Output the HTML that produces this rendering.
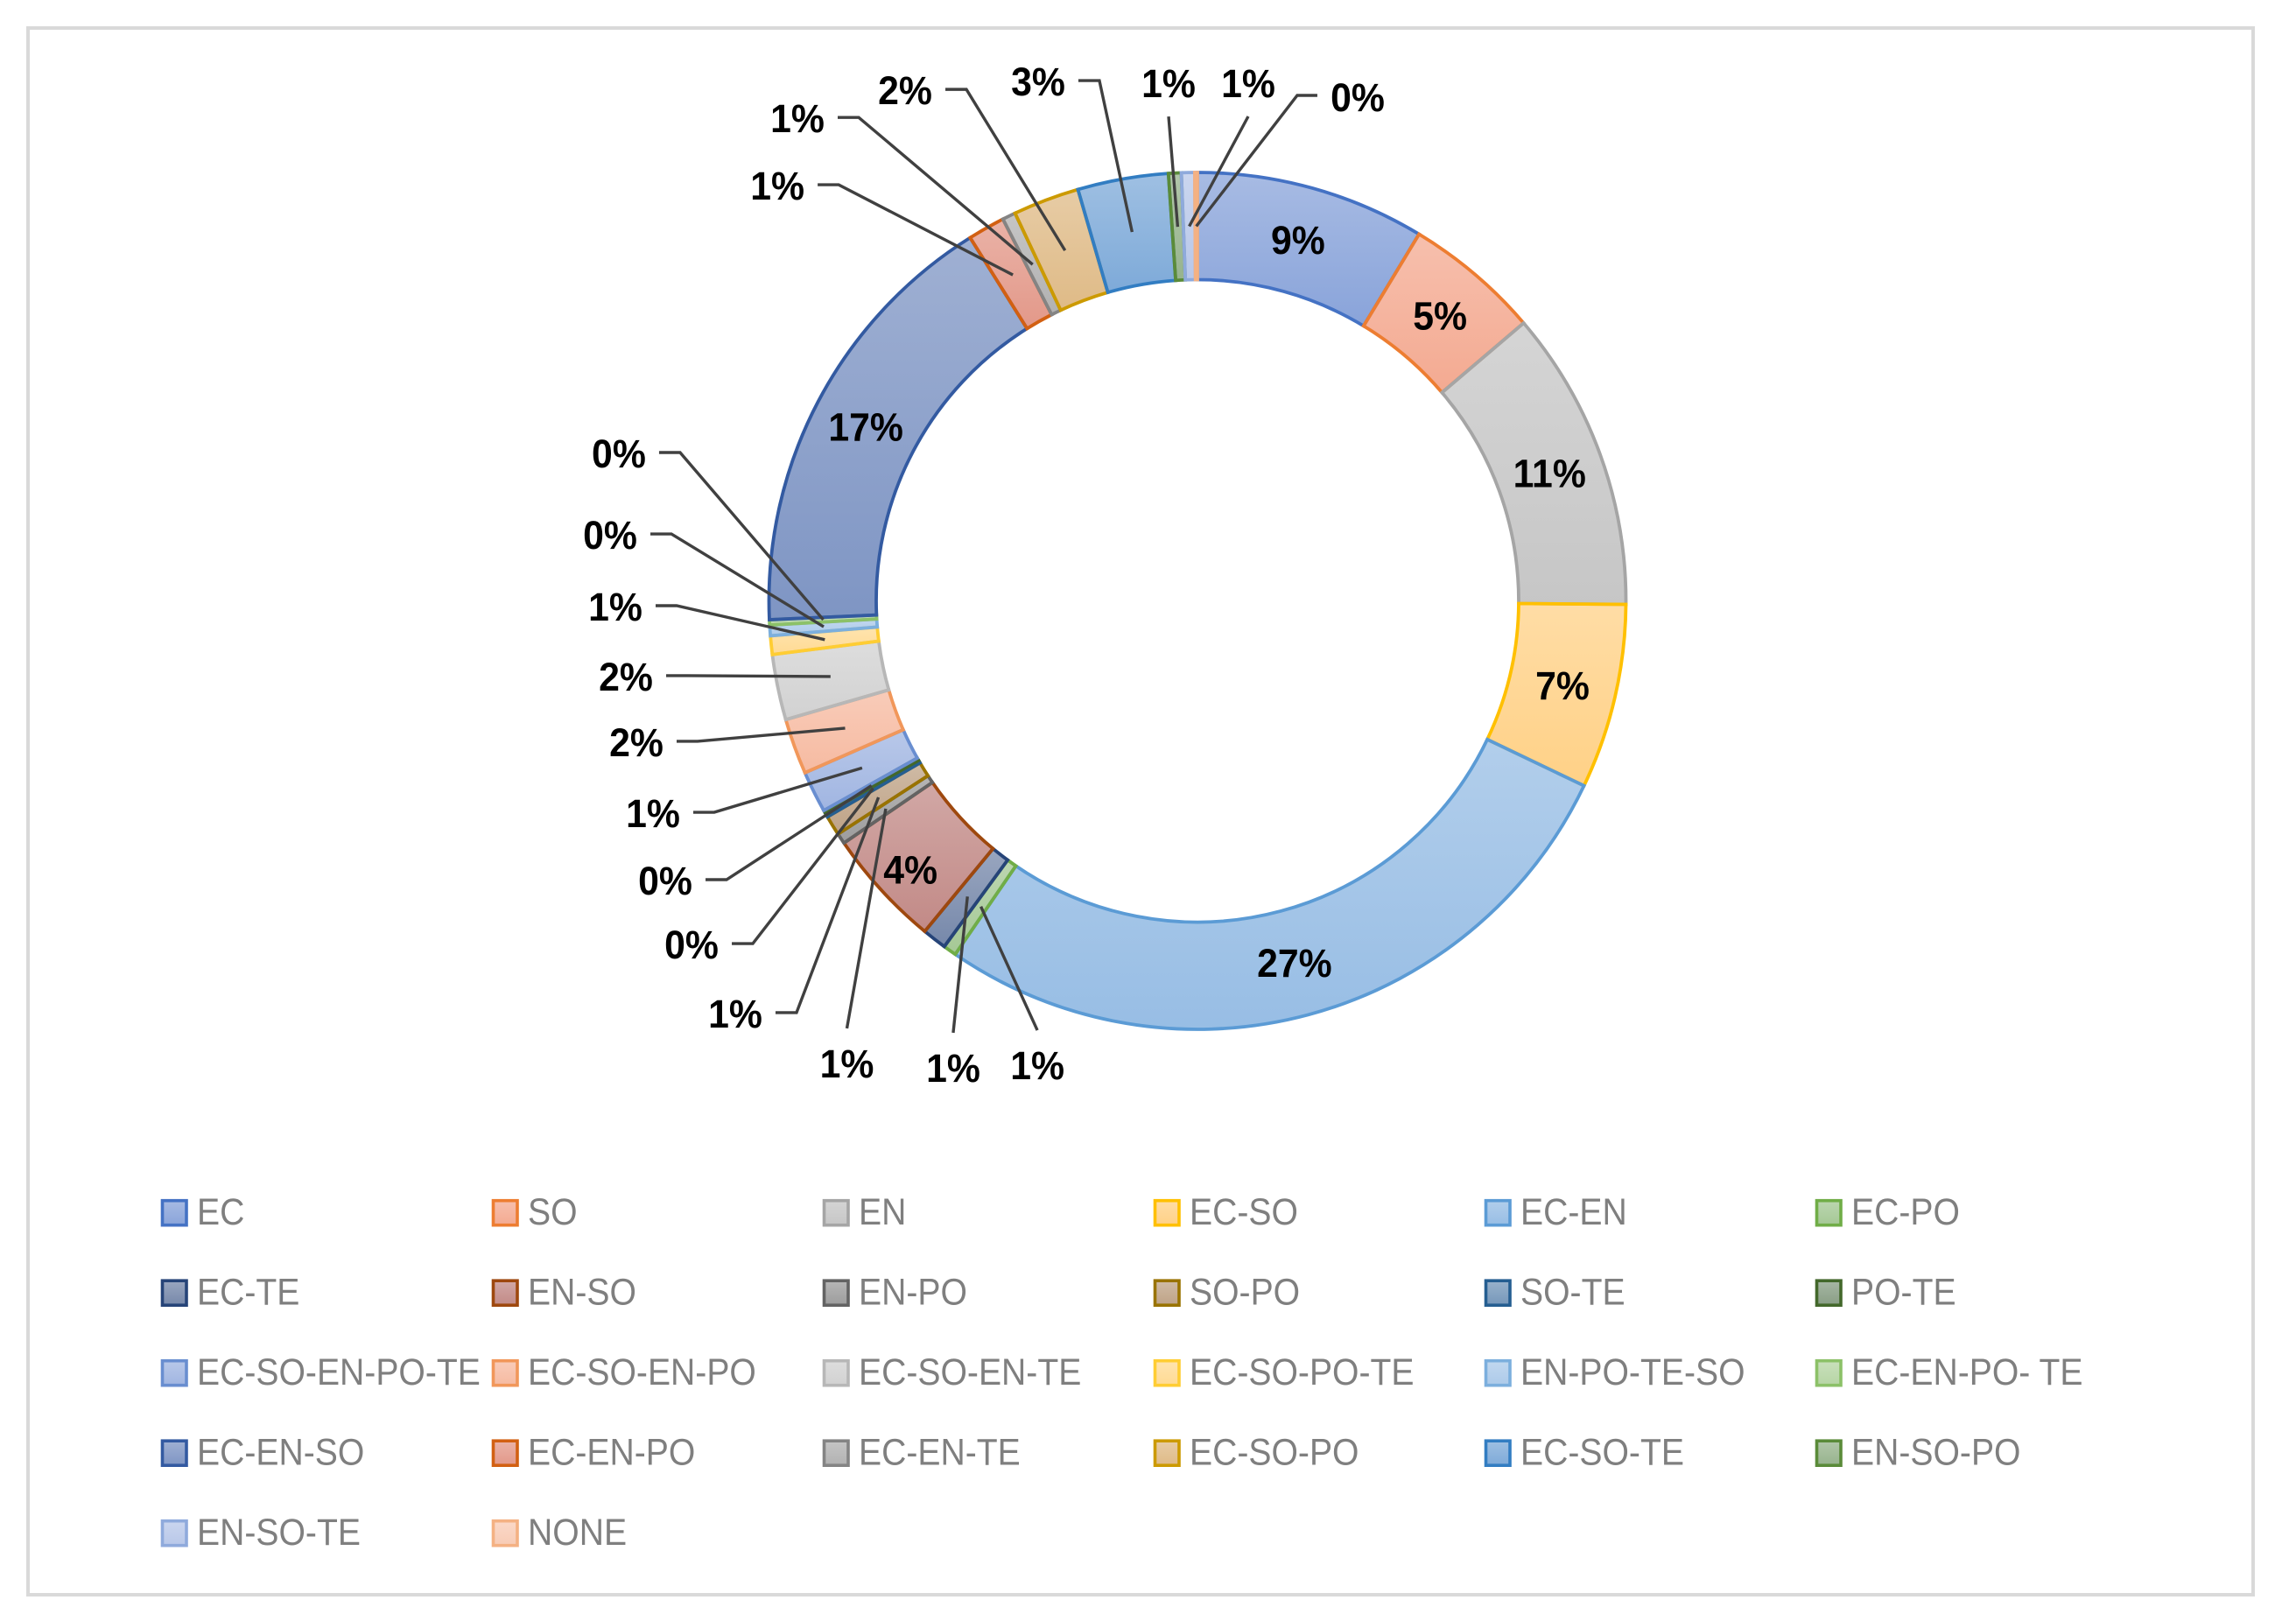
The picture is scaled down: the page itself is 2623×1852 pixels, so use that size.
<!DOCTYPE html>
<html lang="en">
<head>
<meta charset="utf-8">
<title>Donut chart of category shares</title>
<style>
  html, body { margin: 0; padding: 0; background: #ffffff; }
  svg { display: block; }
  text { font-family: "Liberation Sans", Arial, sans-serif; }
</style>
</head>
<body>
<svg id="chart" xmlns="http://www.w3.org/2000/svg" width="2623" height="1852" viewBox="0 0 2623 1852">
  <rect x="32" y="32" width="2542" height="1790" fill="#ffffff" stroke="#d9d9d9" stroke-width="4"></rect>
  <defs id="gradients"></defs>
  <g id="slices"></g>
  <g id="leaders"></g>
  <g id="labels"></g>
  <g id="legend"></g>
</svg>
<script>
// Data
const categories = ["EC","SO","EN","EC-SO","EC-EN","EC-PO","EC-TE","EN-SO","EN-PO","SO-PO","SO-TE","PO-TE",
  "EC-SO-EN-PO-TE","EC-SO-EN-PO","EC-SO-EN-TE","EC-SO-PO-TE","EN-PO-TE-SO","EC-EN-PO- TE",
  "EC-EN-SO","EC-EN-PO","EC-EN-TE","EC-SO-PO","EC-SO-TE","EN-SO-PO","EN-SO-TE","NONE"];
const values = [8.65,5.12,11.36,6.97,27.46,0.5,0.92,4.46,0.4,0.75,0.14,0.13,
  1.57,2.1,2.47,0.7,0.4,0.2,
  16.8,1.4,0.5,2.5,3.42,0.48,0.5,0.1];
const printedLabels = ["9%","5%","11%","7%","27%","1%","1%","4%","1%","1%","0%","0%",
  "1%","2%","2%","1%","0%","0%",
  "17%","1%","1%","2%","3%","1%","1%","0%"];

// Style and layout (separate from the data)
const seriesColors = ["#4472c4","#ed7d31","#a5a5a5","#ffc000","#5b9bd5","#70ad47","#264478","#9e480e","#636363","#997300","#255e91","#43682b",
  "#698ed0","#f1975a","#b7b7b7","#ffcd33","#7cafdd","#8cc168",
  "#335aa1","#d26012","#848484","#cc9a00","#327dc2","#5a8b39","#8faadc","#f4b183"];
const calloutDx = [0,0,0,0,0,64.5,-16.3,-12,-44.4,-163.6,-207.4,-235.6,-238.9,-238.5,-233.8,-239.3,-244,-233.6,0,-269,-268.7,-182.7,-107.4,-10.4,67.4,184.3];
const calloutDy = [0,0,0,0,0,181.3,195.6,18,291,247,178.4,108.5,51.7,16,0,-37.8,-105,-190,0,-102,-167,-183,-172,-164,-163.6,-147.5];
const leaderKinds = ["none","none","none","none","none","bottom","bottom","none","bottom","left","left","left",
  "left","left","left","left","left","left","none","left","left","left","left","top","top","right"];

const cx = 1368, cy = 686.5, outerR = 489.5, innerR = 367, midR = 428;
const svgNS = "http://www.w3.org/2000/svg";
const total = values.reduce(function (a, b) { return a + b; }, 0);

function angleOf(v) { return v / total * 2 * Math.PI; }
function px(r, a) { return cx + r * Math.sin(a); }
function py(r, a) { return cy - r * Math.cos(a); }

// The reference fills are slightly cooler than their outlines.
function softenedFill(hex) {
  const r = parseInt(hex.substr(1, 2), 16);
  const g = parseInt(hex.substr(3, 2), 16);
  const b = parseInt(hex.substr(5, 2), 16);
  const max = Math.max(r, g, b), min = Math.min(r, g, b);
  const sat = max === 0 ? 0 : (max - min) / max;
  const shift = 0.25 * sat * (max - b) / max;
  const g2 = Math.round(g * (1 - 0.05 * sat));
  const b2 = Math.round(b + (255 - b) * shift);
  return "rgb(" + r + "," + g2 + "," + b2 + ")";
}

function gradientFor(i) {
  const g = document.createElementNS(svgNS, "linearGradient");
  g.setAttribute("id", "grad" + i);
  g.setAttribute("x1", "0"); g.setAttribute("y1", "0");
  g.setAttribute("x2", "0"); g.setAttribute("y2", "1");
  [[0, 0.47], [1, 0.63]].forEach(function (s) {
    const st = document.createElementNS(svgNS, "stop");
    st.setAttribute("offset", s[0]);
    st.setAttribute("stop-color", softenedFill(seriesColors[i]));
    st.setAttribute("stop-opacity", s[1]);
    g.appendChild(st);
  });
  document.getElementById("gradients").appendChild(g);
}

function slug(name) { return name.toLowerCase().replace(/[^a-z0-9]+/g, "-"); }

let cum = 0;
categories.forEach(function (name, i) {
  gradientFor(i);
  const a0 = angleOf(cum);
  const a1 = angleOf(cum + values[i]);
  const mid = (a0 + a1) / 2;
  cum += values[i];
  const large = a1 - a0 > Math.PI ? 1 : 0;

  // ring slice
  const d = "M" + px(outerR, a0) + " " + py(outerR, a0) +
    " A" + outerR + " " + outerR + " 0 " + large + " 1 " + px(outerR, a1) + " " + py(outerR, a1) +
    " L" + px(innerR, a1) + " " + py(innerR, a1) +
    " A" + innerR + " " + innerR + " 0 " + large + " 0 " + px(innerR, a0) + " " + py(innerR, a0) + " Z";
  const path = document.createElementNS(svgNS, "path");
  
  
  path.setAttribute("d", d);
  path.setAttribute("fill", "url(#grad" + i + ")");
  path.setAttribute("stroke", seriesColors[i]);
  path.setAttribute("stroke-width", "3.8");
  path.setAttribute("stroke-linejoin", "miter");
  document.getElementById("slices").appendChild(path);

  // label position follows the slice
  const ax = px(midR, mid), ay = py(midR, mid);
  const tx = ax + calloutDx[i], ty = ay + calloutDy[i];

  // leader line
  const kind = leaderKinds[i];
  if (kind !== "none") {
    let pts;
    if (kind === "left") {
      pts = [[tx + 46, ty - 1], [tx + 70, ty - 1], [ax, ay]];
    } else if (kind === "right") {
      pts = [[tx - 46, ty - 2], [tx - 69, ty - 2], [ax, ay]];
    } else if (kind === "top") {
      pts = [[tx, ty + 38], [ax, ay]];
    } else {
      pts = [[tx, ty - 40], [ax, ay]];
    }
    const line = document.createElementNS(svgNS, "polyline");
    
    
    line.setAttribute("points", pts.map(function (p) { return p[0] + "," + p[1]; }).join(" "));
    line.setAttribute("fill", "none");
    line.setAttribute("stroke", "#404040");
    line.setAttribute("stroke-width", "3.4");
    document.getElementById("leaders").appendChild(line);
  }

  // data label
  const t = document.createElementNS(svgNS, "text");
  
  
  t.setAttribute("transform", "translate(" + tx + " " + (ty + 16) + ") scale(0.95 1)");
  t.setAttribute("text-anchor", "middle");
  t.setAttribute("font-size", "45");
  t.setAttribute("font-weight", "700");
  t.setAttribute("fill", "#000000");
  t.textContent = printedLabels[i];
  document.getElementById("labels").appendChild(t);

  // legend entry
  const col = i % 6, row = Math.floor(i / 6);
  const lx = 185.5 + col * 378, ly = 1385.7 + row * 91.5;
  const entry = document.createElementNS(svgNS, "g");
  
  
  const sw = document.createElementNS(svgNS, "rect");
  
  
  sw.setAttribute("x", lx);
  sw.setAttribute("y", ly - 14);
  sw.setAttribute("width", 27.5);
  sw.setAttribute("height", 28);
  sw.setAttribute("fill", "url(#grad" + i + ")");
  sw.setAttribute("stroke", seriesColors[i]);
  sw.setAttribute("stroke-width", "3.6");
  entry.appendChild(sw);
  const lt = document.createElementNS(svgNS, "text");
  
  
  lt.setAttribute("transform", "translate(" + (lx + 39.5) + " " + (ly + 13.5) + ") scale(0.91 1)");
  lt.setAttribute("font-size", "43");
  lt.setAttribute("fill", "#7f7f7f");
  lt.textContent = name;
  entry.appendChild(lt);
  document.getElementById("legend").appendChild(entry);
});
</script>
</body>
</html>
